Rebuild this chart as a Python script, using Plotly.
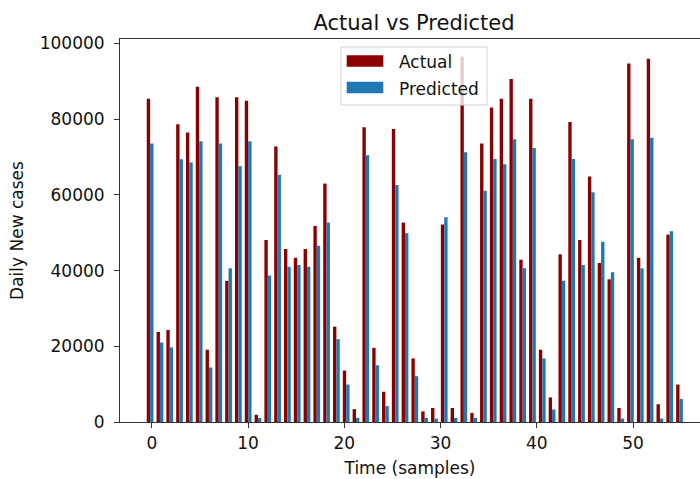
import numpy as np
import plotly.graph_objects as go

# ---- data ----
n_samples = 55
sample_x = np.linspace(0, 55, n_samples)

actual = [85400, 23800, 24300, 78700, 76500, 88600, 19100, 85800, 37300, 85800,
          84900, 1900, 48100, 72800, 45700, 43400, 45700, 51800, 63000, 25200,
          13600, 3400, 77900, 19600, 8000, 77400, 52700, 16800, 2800, 3700,
          52200, 3700, 96600, 2400, 73600, 83100, 85400, 90600, 42900, 85400,
          19100, 6500, 44300, 79300, 48100, 64900, 42000, 37700, 3700, 94700,
          43400, 96000, 4700, 49500, 9900]

predicted = [73600, 21000, 19700, 69400, 68600, 74200, 14400, 73600, 40600, 67600,
             74200, 1100, 38700, 65300, 41000, 41500, 41000, 46600, 52700, 21900,
             9900, 1100, 70500, 15000, 4200, 62600, 49900, 12100, 1100, 900,
             54100, 1100, 71300, 1100, 61100, 69500, 68100, 74700, 40600, 72400,
             16800, 3300, 37300, 69500, 41500, 60700, 47600, 39600, 900, 74700,
             40600, 75100, 900, 50400, 6100]

series_names = ["Actual", "Predicted"]
series_colors = ["#8B0000", "#1f77b4"]

x_ticks = [0, 10, 20, 30, 40, 50]
y_ticks = [0, 20000, 40000, 60000, 80000, 100000]

bar_w = 0.35
FONT = "DejaVu Sans"
FS = 17
AX = "#333333"
TXT = "#111111"

# plot-area geometry in pixels (for placing the legend box)
W, H = 700, 479
ML, MR, MT, MB = 120, 0, 39, 57
PW, PH = W - ML - MR, H - MT - MB


def px_x(p):
    return (p - ML) / PW


def px_y(p):
    return (H - MB - p) / PH


fig = go.Figure()
for name, vals, color, off in zip(series_names, [actual, predicted], series_colors,
                                  [-1.5 * bar_w, -0.5 * bar_w]):
    fig.add_trace(go.Bar(
        x=sample_x, y=vals, name=name,
        width=bar_w, offset=off,
        marker=dict(color=color, line=dict(width=0)),
        showlegend=False,
    ))

# matplotlib-style legend (box, wide swatches, labels)
shapes = [dict(type="rect", xref="paper", yref="paper", layer="above",
               x0=px_x(341), x1=px_x(487), y0=px_y(105), y1=px_y(47),
               fillcolor="rgba(255,255,255,0.8)",
               line=dict(color="#d0d0d0", width=1))]
annotations = []
for i, (name, color) in enumerate(zip(series_names, series_colors)):
    cy = 61 + i * 26.5
    shapes.append(dict(type="rect", xref="paper", yref="paper", layer="above",
                       x0=px_x(346.7), x1=px_x(383.3),
                       y0=px_y(cy + 5.8), y1=px_y(cy - 5.8),
                       fillcolor=color, line=dict(width=0)))
    annotations.append(dict(text=name, xref="paper", yref="paper",
                            x=px_x(396.5), y=px_y(cy + 1), xanchor="left",
                            yanchor="middle", showarrow=False,
                            font=dict(family=FONT, size=FS, color=TXT)))

fig.update_layout(
    width=W, height=H,
    margin=dict(l=ML, r=MR, t=MT, b=MB),
    paper_bgcolor="white", plot_bgcolor="white",
    barmode="overlay",
    showlegend=False,
    font=dict(family=FONT, size=FS, color=TXT),
    title=dict(text="Actual vs Predicted", x=0.507, xanchor="center",
               xref="paper", y=0.953, yref="container", yanchor="middle",
               font=dict(family=FONT, size=21, color=TXT)),
    shapes=shapes,
    annotations=annotations,
    xaxis=dict(
        range=[-3.304, 56.955],
        tickmode="array", tickvals=x_ticks, ticktext=[str(v) for v in x_ticks],
        showgrid=False, zeroline=False,
        showline=True, linecolor=AX, linewidth=1, mirror=True,
        ticks="outside", ticklen=5, tickwidth=1, tickcolor=AX,
        ticklabelstandoff=1,
        tickfont=dict(family=FONT, size=FS, color=TXT),
        title=dict(text="Time (samples)", standoff=9,
                   font=dict(family=FONT, size=FS, color=TXT)),
    ),
    yaxis=dict(
        range=[0, 101200],
        tickmode="array", tickvals=y_ticks, ticktext=[str(v) for v in y_ticks],
        showgrid=False, zeroline=False,
        showline=True, linecolor=AX, linewidth=1, mirror=False,
        ticks="outside", ticklen=5, tickwidth=1, tickcolor=AX,
        ticklabelstandoff=6,
        tickfont=dict(family=FONT, size=FS, color=TXT),
        title=dict(text="Daily New cases", standoff=11,
                   font=dict(family=FONT, size=FS, color=TXT)),
    ),
)

fig.write_html(
    "out.html",
    config={"displayModeBar": False},
    post_script="document.body.style.margin='0px';document.body.style.overflow='hidden';",
)
